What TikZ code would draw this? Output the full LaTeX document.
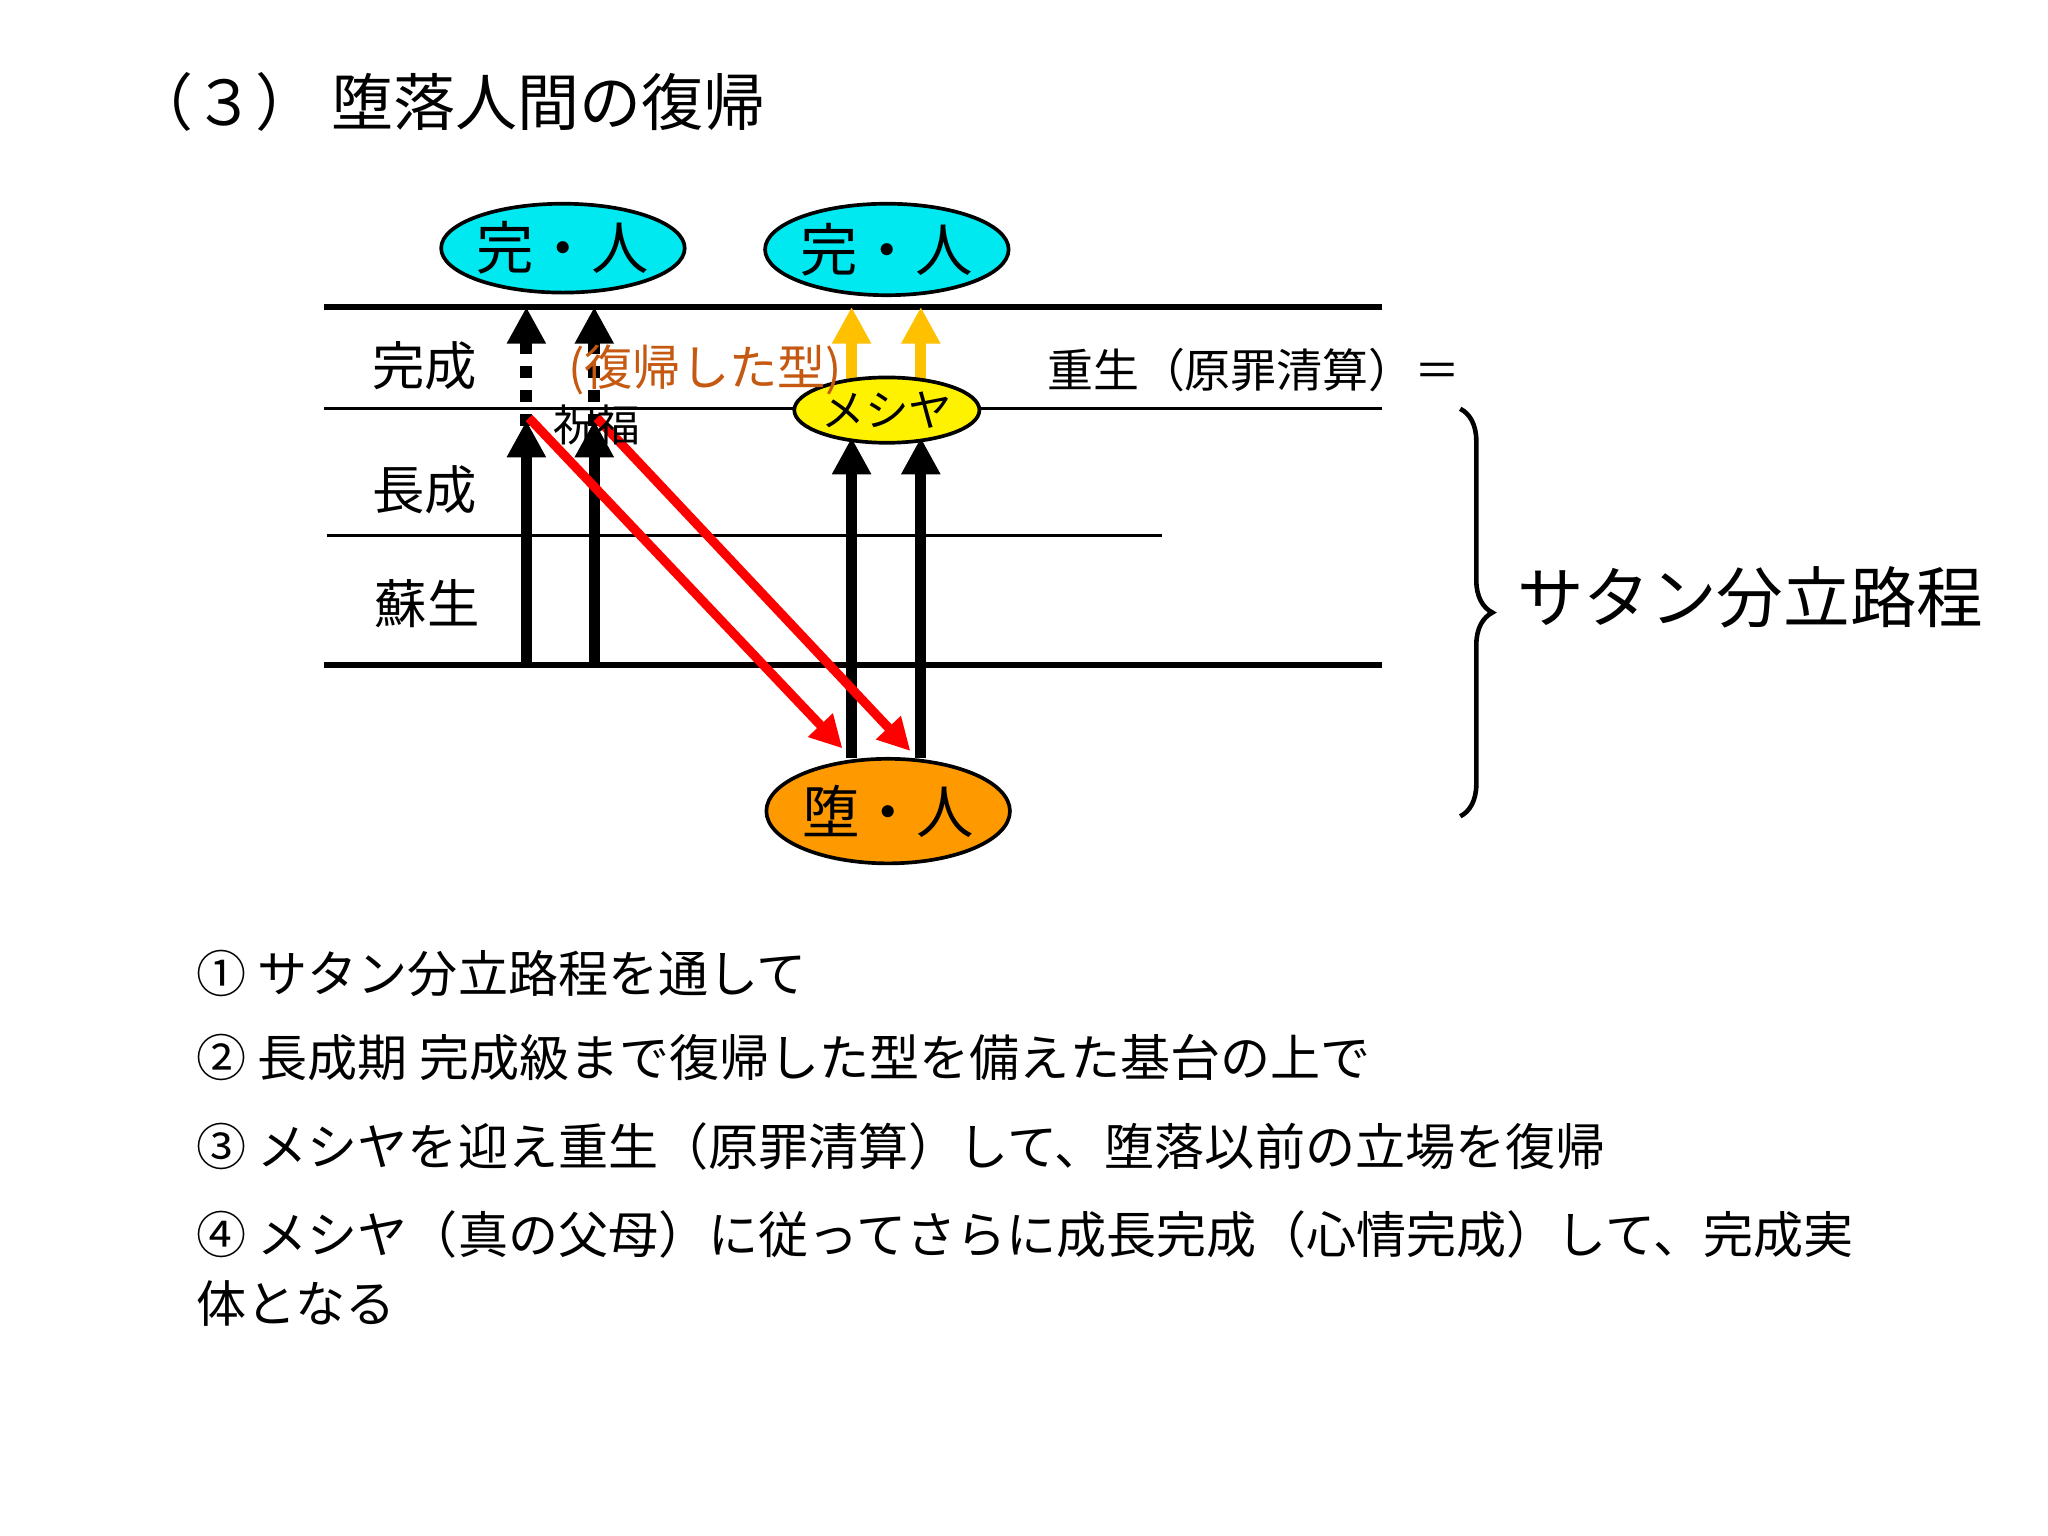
\documentclass[tikz,border=0pt]{standalone}
\usepackage{fontspec}
\newfontfamily\jp{Noto Sans CJK JP}
\usetikzlibrary{arrows.meta,decorations.pathreplacing,shapes.geometric}
\definecolor{myorange}{HTML}{FF9900}
\definecolor{myamber}{HTML}{FFC000}
\definecolor{mycyan}{HTML}{00E8F0}
\definecolor{txtorange}{HTML}{C65911}
\begin{document}
\begin{tikzpicture}[x=0.01cm,y=-0.01cm,
  thickline/.style={line width=1.3pt},
  thinline/.style={line width=0.7pt},
  ell/.style={ellipse,draw,line width=0.8pt,inner sep=0pt},
  blk/.style={line width=2.4pt,-{Triangle[width=8pt,length=8pt]}},
  dotd/.style={line width=2.6pt,dash pattern=on 2.6pt off 2.6pt},
  amb/.style={myamber,line width=2.4pt,-{Triangle[width=8pt,length=8pt]}},
  redarr/.style={red,line width=2pt,-{Triangle[width=7pt,length=7pt]}},
  lbl/.style={font=\jp\fontsize{11.4}{12}\selectfont},
  item/.style={anchor=west,font=\jp\fontsize{10.9}{12}\selectfont}]
\useasboundingbox (0,0) rectangle (1568,1176);
\fill[white] (0,0) rectangle (1568,1176);
\node[anchor=west,font=\jp\fontsize{13.5}{14}\selectfont] (title) at (88,78) {（３）\ 堕落人間の復帰};
% lines
\coordinate (l1a) at (248,235); \coordinate (l1b) at (1058,235);
\coordinate (l2a) at (248,313); \coordinate (l2b) at (1058,313);
\coordinate (l3a) at (250,410); \coordinate (l3b) at (890,410);
\coordinate (l4a) at (248,509); \coordinate (l4b) at (1058,509);
\draw[thickline] (l1a) -- (l1b);
\draw[thinline] (l2a) -- (l2b);
\draw[thinline] (l3a) -- (l3b);
\draw[thickline] (l4a) -- (l4b);
\node[lbl] (kansei) at (325,280) {完成};
\node[lbl] (chosei) at (325,375) {長成};
\node[lbl] (sosei) at (327,462) {蘇生};
% arrows
\coordinate (a1b) at (403,509); \coordinate (a1m) at (403,322); \coordinate (a1d) at (403,262); \coordinate (a1t) at (403,235);
\coordinate (a2b) at (455,509); \coordinate (a2m) at (455,322); \coordinate (a2d) at (455,262); \coordinate (a2t) at (455,235);
\coordinate (a1s) at (403,326); \coordinate (a2s) at (455,326);
\draw[blk] (a1b) -- (a1m);
\draw[blk] (a2b) -- (a2m);
\draw[dotd] (a1s) -- (a1d);
\draw[dotd] (a2s) -- (a2d);
\draw[blk] (a1d) -- (a1t);
\draw[blk] (a2d) -- (a2t);
\coordinate (b1b) at (652,580); \coordinate (b1t) at (652,335);
\coordinate (b2b) at (705,580); \coordinate (b2t) at (705,335);
\draw[blk] (b1b) -- (b1t);
\draw[blk] (b2b) -- (b2t);
\coordinate (c1b) at (652,292); \coordinate (c1t) at (652,235);
\coordinate (c2b) at (705,292); \coordinate (c2t) at (705,235);
\draw[amb] (c1b) -- (c1t);
\draw[amb] (c2b) -- (c2t);
\coordinate (r1s) at (405,320); \coordinate (r1e) at (645,573);
\coordinate (r2s) at (457,320); \coordinate (r2e) at (697,575);
\draw[redarr] (r1s) -- (r1e);
\draw[redarr] (r2s) -- (r2e);
% ellipses
\node[ell,fill=mycyan,minimum width=1.3cm,minimum height=0.68cm,font=\jp\fontsize{12.5}{13}\selectfont] (k1) at (431,190) {完・人};
\node[ell,fill=mycyan,minimum width=1.3cm,minimum height=0.7cm,font=\jp\fontsize{12.5}{13}\selectfont] (k2) at (679,191) {完・人};
\node[ell,fill=yellow,minimum width=1.18cm,minimum height=0.5cm,font=\jp\fontsize{9.5}{10}\selectfont] (mes) at (679,314) {メシヤ};
\node[ell,fill=myorange,minimum width=1.82cm,minimum height=0.8cm,font=\jp\fontsize{12.5}{13}\selectfont] (da) at (680,621) {堕・人};
\node[font=\jp\fontsize{10.5}{12}\selectfont,text=txtorange] (fukki) at (540,283) {(復帰した型)};
\node[font=\jp\fontsize{9.5}{12}\selectfont] (shuku) at (457,325) {祝福};
\node[font=\jp\fontsize{10}{12}\selectfont] (jusei) at (960,283) {重生（原罪清算）＝};
% brace
\coordinate (bt) at (1118,313); \coordinate (bb) at (1118,625);
\draw[line width=1pt,decorate,decoration={brace,amplitude=7pt}] (bt) -- (bb);
\node[font=\jp\fontsize{14.5}{16}\selectfont] (satan) at (1340,457) {サタン分立路程};
% list
\node[item] (i1) at (138,745) {① サタン分立路程を通して};
\node[item] (i2) at (138,810) {② 長成期 完成級まで復帰した型を備えた基台の上で};
\node[item] (i3) at (138,878) {③ メシヤを迎え重生（原罪清算）して、堕落以前の立場を復帰};
\node[item] (i4) at (138,945) {④ メシヤ（真の父母）に従ってさらに成長完成（心情完成）して、完成実};
\node[item] (i5) at (138,998) {体となる};
\end{tikzpicture}
\end{document}
